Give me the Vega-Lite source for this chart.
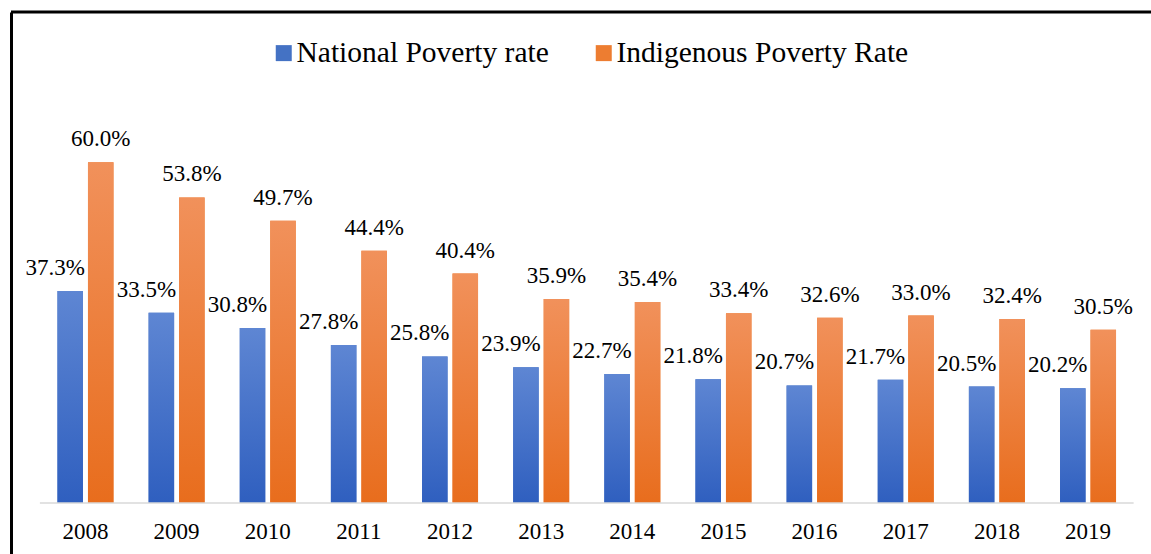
{
  "$schema": "https://vega.github.io/schema/vega-lite/v6.json",
  "width": 1140,
  "height": 542,
  "autosize": "none",
  "padding": {"left": 11, "top": 12, "right": 0, "bottom": 0},
  "background": "white",
  "config": {
    "view": {"stroke": null},
    "font": "Liberation Serif"
  },
  "data": {
    "values": [
      {"year": "2008", "series": "National Poverty rate", "value": 37.3},
      {"year": "2008", "series": "Indigenous Poverty Rate", "value": 60.0},
      {"year": "2009", "series": "National Poverty rate", "value": 33.5},
      {"year": "2009", "series": "Indigenous Poverty Rate", "value": 53.8},
      {"year": "2010", "series": "National Poverty rate", "value": 30.8},
      {"year": "2010", "series": "Indigenous Poverty Rate", "value": 49.7},
      {"year": "2011", "series": "National Poverty rate", "value": 27.8},
      {"year": "2011", "series": "Indigenous Poverty Rate", "value": 44.4},
      {"year": "2012", "series": "National Poverty rate", "value": 25.8},
      {"year": "2012", "series": "Indigenous Poverty Rate", "value": 40.4},
      {"year": "2013", "series": "National Poverty rate", "value": 23.9},
      {"year": "2013", "series": "Indigenous Poverty Rate", "value": 35.9},
      {"year": "2014", "series": "National Poverty rate", "value": 22.7},
      {"year": "2014", "series": "Indigenous Poverty Rate", "value": 35.4},
      {"year": "2015", "series": "National Poverty rate", "value": 21.8},
      {"year": "2015", "series": "Indigenous Poverty Rate", "value": 33.4},
      {"year": "2016", "series": "National Poverty rate", "value": 20.7},
      {"year": "2016", "series": "Indigenous Poverty Rate", "value": 32.6},
      {"year": "2017", "series": "National Poverty rate", "value": 21.7},
      {"year": "2017", "series": "Indigenous Poverty Rate", "value": 33.0},
      {"year": "2018", "series": "National Poverty rate", "value": 20.5},
      {"year": "2018", "series": "Indigenous Poverty Rate", "value": 32.4},
      {"year": "2019", "series": "National Poverty rate", "value": 20.2},
      {"year": "2019", "series": "Indigenous Poverty Rate", "value": 30.5}
    ]
  },
  "transform": [{"calculate": "format(datum.value, '.1f') + '%'", "as": "label"}],
  "layer": [
    {
      "mark": {"type": "bar"},
      "encoding": {
        "x": {
          "field": "year", "type": "nominal", "title": null,
          "scale": {"paddingInner": 0.3856, "paddingOuter": 0.4468, "align": 0.5706},
          "axis": {"orient": "bottom", "offset": -51, "domain": false, "ticks": false, "tickSize": 0,
                   "labelPadding": 35, "labelBaseline": "alphabetic", "labelFontSize": 23,
                   "labelFont": "Liberation Serif", "labelColor": "#000000", "labelAngle": 0, "title": null}
        },
        "xOffset": {
          "field": "series", "type": "nominal",
          "scale": {"domain": ["National Poverty rate", "Indigenous Poverty Rate"], "paddingInner": 0.164, "paddingOuter": 0}
        },
        "y": {
          "field": "value", "type": "quantitative", "title": null,
          "scale": {"domain": [-8.98, 86.44], "nice": false, "zero": false},
          "axis": {"orient": "left", "domain": true, "domainColor": "#000000", "domainWidth": 3,
                   "labels": false, "ticks": false, "grid": false, "title": null}
        },
        "y2": {"datum": 0},
        "color": {
          "field": "series", "type": "nominal",
          "scale": {"domain": ["National Poverty rate", "Indigenous Poverty Rate"], "range": ["#4472C4", "#ED7D31"]},
          "legend": {"title": null, "orient": "none", "legendX": 258, "legendY": 26, "direction": "horizontal",
                     "symbolType": "square", "symbolSize": 256, "symbolStrokeWidth": 0,
                     "labelFontSize": 29.5, "labelFont": "Liberation Serif", "labelColor": "#000000",
                     "labelOffset": -2, "columnPadding": 40, "padding": 0, "labelLimit": 0}
        }
      }
    },
    {
      "transform": [{"filter": "datum.series === 'National Poverty rate'"}],
      "mark": {"type": "bar", "fill": {"gradient": "linear", "x1": 0, "y1": 0, "x2": 0, "y2": 1,
               "stops": [{"offset": 0, "color": "#5E86D3"}, {"offset": 1, "color": "#2F5FBF"}]}},
      "encoding": {
        "x": {"field": "year", "type": "nominal", "title": null},
        "xOffset": {"field": "series", "type": "nominal"},
        "y": {"field": "value", "type": "quantitative", "title": null},
        "y2": {"datum": 0}
      }
    },
    {
      "transform": [{"filter": "datum.series === 'Indigenous Poverty Rate'"}],
      "mark": {"type": "bar", "fill": {"gradient": "linear", "x1": 0, "y1": 0, "x2": 0, "y2": 1,
               "stops": [{"offset": 0, "color": "#F1915B"}, {"offset": 1, "color": "#E86D1D"}]}},
      "encoding": {
        "x": {"field": "year", "type": "nominal", "title": null},
        "xOffset": {"field": "series", "type": "nominal"},
        "y": {"field": "value", "type": "quantitative", "title": null},
        "y2": {"datum": 0}
      }
    },
    {
      "data": {"values": [{}]},
      "mark": {"type": "rule", "color": "#D9D9D9", "strokeWidth": 1.5, "xOffset": -45.6, "x2Offset": 45.6},
      "encoding": {
        "x": {"datum": "2008", "type": "nominal", "title": null},
        "x2": {"datum": "2019"},
        "y": {"datum": 0, "type": "quantitative", "title": null}
      }
    },
    {
      "transform": [{"filter": "datum.series === 'National Poverty rate'"}],
      "mark": {"type": "text", "fontSize": 23, "font": "Liberation Serif", "color": "#000000",
               "align": "center", "baseline": "alphabetic", "dx": -15, "dy": -16},
      "encoding": {
        "x": {"field": "year", "type": "nominal", "title": null},
        "xOffset": {"field": "series", "type": "nominal"},
        "y": {"field": "value", "type": "quantitative", "title": null},
        "text": {"field": "label", "type": "nominal"}
      }
    },
    {
      "transform": [{"filter": "datum.series === 'Indigenous Poverty Rate'"}],
      "mark": {"type": "text", "fontSize": 23, "font": "Liberation Serif", "color": "#000000",
               "align": "center", "baseline": "alphabetic", "dx": 0, "dy": -16},
      "encoding": {
        "x": {"field": "year", "type": "nominal", "title": null},
        "xOffset": {"field": "series", "type": "nominal"},
        "y": {"field": "value", "type": "quantitative", "title": null},
        "text": {"field": "label", "type": "nominal"}
      }
    },
    {
      "data": {"values": [{}]},
      "mark": {"type": "rule", "color": "#000000", "strokeWidth": 3},
      "encoding": {"y": {"datum": 86.44, "type": "quantitative", "title": null}}
    }
  ]
}
